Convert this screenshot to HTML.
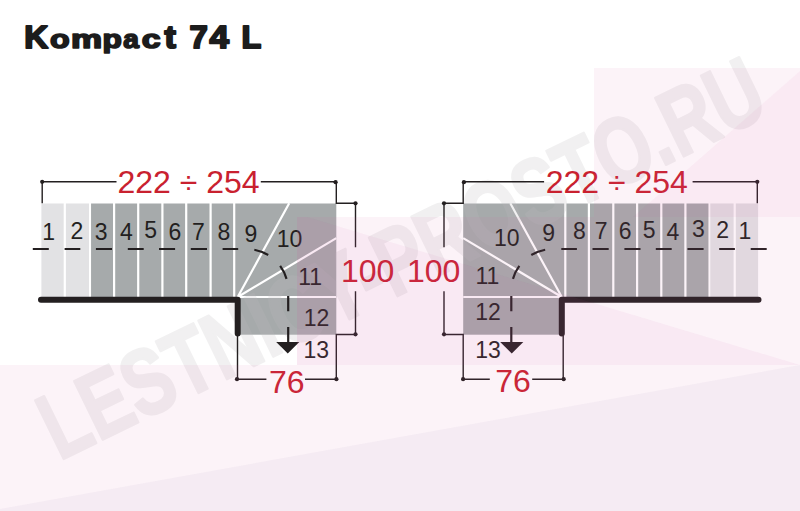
<!DOCTYPE html>
<html><head><meta charset="utf-8"><style>
html,body{margin:0;padding:0;background:#fff;}
body{width:800px;height:511px;overflow:hidden;}
svg{display:block;font-family:"Liberation Sans",sans-serif;}
</style></head><body>
<svg width="800" height="511" viewBox="0 0 800 511">
<rect x="41.4" y="203.5" width="47.5" height="93.8" fill="#e2e2e4"/>
<rect x="88.9" y="203.5" width="247.4" height="93.8" fill="#a6aaab"/>
<rect x="235.4" y="296" width="100.9" height="38.7" fill="#a6aaab"/>
<rect x="63.70" y="203" width="2.2" height="95" fill="#fff"/>
<rect x="88.85" y="203" width="2.2" height="95" fill="#fff"/>
<rect x="113.00" y="203" width="2.2" height="95" fill="#fff"/>
<rect x="137.10" y="203" width="2.2" height="95" fill="#fff"/>
<rect x="161.30" y="203" width="2.2" height="95" fill="#fff"/>
<rect x="185.10" y="203" width="2.2" height="95" fill="#fff"/>
<rect x="209.50" y="203" width="2.2" height="95" fill="#fff"/>
<rect x="233.10" y="203" width="2.2" height="95" fill="#fff"/>
<path d="M237.7 297.0 L289.2 203.3 M237.7 297.0 L336.3 238.1 M237.7 297.0 L336.3 297.0" stroke="#fff" stroke-width="2.2" fill="none"/>
<g transform="matrix(-1 0 0 1 799.5 0)"><rect x="41.4" y="203.5" width="47.5" height="93.8" fill="#e2e2e4"/>
<rect x="88.9" y="203.5" width="247.4" height="93.8" fill="#a6aaab"/>
<rect x="235.4" y="296" width="100.9" height="38.7" fill="#a6aaab"/>
<rect x="63.70" y="203" width="2.2" height="95" fill="#fff"/>
<rect x="88.85" y="203" width="2.2" height="95" fill="#fff"/>
<rect x="113.00" y="203" width="2.2" height="95" fill="#fff"/>
<rect x="137.10" y="203" width="2.2" height="95" fill="#fff"/>
<rect x="161.30" y="203" width="2.2" height="95" fill="#fff"/>
<rect x="185.10" y="203" width="2.2" height="95" fill="#fff"/>
<rect x="209.50" y="203" width="2.2" height="95" fill="#fff"/>
<rect x="233.10" y="203" width="2.2" height="95" fill="#fff"/>
<path d="M237.7 297.0 L289.2 203.3 M237.7 297.0 L336.3 238.1 M237.7 297.0 L336.3 297.0" stroke="#fff" stroke-width="2.2" fill="none"/></g>
<g opacity="0.21"><text x="0" y="0" transform="translate(59.2 460.9) rotate(-26) scale(0.754 1)" font-size="94.3" font-weight="bold" fill="rgb(190,188,190)" stroke="rgb(190,188,190)" stroke-width="2.5" stroke-linejoin="round">LESTNICY-PROSTO.RU</text></g>
<text transform="translate(24.36 47.70) scale(1.037 0.959)" font-size="32.0" font-weight="bold" fill="#1c1c1c" stroke="#1c1c1c" stroke-width="2.0" stroke-linejoin="round">K</text>
<text transform="translate(50.12 48.14) scale(1.004 0.822)" font-size="32.0" font-weight="bold" fill="#1c1c1c" stroke="#1c1c1c" stroke-width="2.0" stroke-linejoin="round">o</text>
<text transform="translate(71.02 48.00) scale(1.094 0.814)" font-size="32.0" font-weight="bold" fill="#1c1c1c" stroke="#1c1c1c" stroke-width="2.0" stroke-linejoin="round">m</text>
<text transform="translate(102.44 48.09) scale(0.990 0.815)" font-size="32.0" font-weight="bold" fill="#1c1c1c" stroke="#1c1c1c" stroke-width="2.0" stroke-linejoin="round">p</text>
<text transform="translate(123.15 48.14) scale(0.880 0.822)" font-size="32.0" font-weight="bold" fill="#1c1c1c" stroke="#1c1c1c" stroke-width="2.0" stroke-linejoin="round">a</text>
<text transform="translate(141.65 48.14) scale(1.058 0.822)" font-size="32.0" font-weight="bold" fill="#1c1c1c" stroke="#1c1c1c" stroke-width="2.0" stroke-linejoin="round">c</text>
<text transform="translate(164.57 48.08) scale(1.067 0.986)" font-size="32.0" font-weight="bold" fill="#1c1c1c" stroke="#1c1c1c" stroke-width="2.0" stroke-linejoin="round">t</text>
<text transform="translate(189.40 47.80) scale(1.031 0.955)" font-size="32.0" font-weight="bold" fill="#1c1c1c" stroke="#1c1c1c" stroke-width="2.0" stroke-linejoin="round">7</text>
<text transform="translate(209.48 47.80) scale(1.092 0.955)" font-size="32.0" font-weight="bold" fill="#1c1c1c" stroke="#1c1c1c" stroke-width="2.0" stroke-linejoin="round">4</text>
<text transform="translate(241.41 47.80) scale(1.012 0.955)" font-size="32.0" font-weight="bold" fill="#1c1c1c" stroke="#1c1c1c" stroke-width="2.0" stroke-linejoin="round">L</text>
<path d="M41 299.8 H237.7 V333.5" stroke="#231f20" stroke-width="6" fill="none" stroke-linecap="round" stroke-linejoin="round"/>
<path d="M42.2 203.3 V181.8 H116.5 M260.8 181.8 H336.3 V203.3 H355.5 V247.3 M355.5 291.2 V334.5 H336.3 V379.2 H305.0 M266.4 379.2 H237.5 V336" stroke="#231f20" stroke-width="1.4" fill="none"/>
<circle cx="42.2" cy="181.8" r="2.1" fill="#231f20"/>
<circle cx="335.6" cy="182.2" r="2.1" fill="#231f20"/>
<circle cx="355.5" cy="203.3" r="2.1" fill="#231f20"/>
<circle cx="355.5" cy="334.3" r="2.1" fill="#231f20"/>
<circle cx="237.0" cy="379.2" r="2.1" fill="#231f20"/>
<circle cx="336.4" cy="379.2" r="2.1" fill="#231f20"/>
<path d="M32.8 249 H48.8 M64.6 249 H80.3 M95.9 249 H112.0 M127.8 249 H143.7 M159.0 249 H175.1 M190.8 249 H207.0 M222.6 249 H238.2 M254.33 249.71 A41.5 41.5 0 0 1 268.20 255.00 M280.15 265.93 A41.5 41.5 0 0 1 286.53 278.85 M288.2 296 V311.3 M288.2 327 V343" stroke="#231f20" stroke-width="2.2" fill="none"/>
<path d="M276.2 342 H299.3 L287.75 353.6 Z" fill="#231f20"/>
<g transform="matrix(-1 0 0 1 799.5 0)"><path d="M41 299.8 H237.7 V333.5" stroke="#231f20" stroke-width="6" fill="none" stroke-linecap="round" stroke-linejoin="round"/>
<path d="M42.2 203.3 V181.8 H106.89999999999998 M255.39999999999998 181.8 H336.3 V203.3 H355.5 V247.3 M355.5 291.2 V334.5 H336.3 V379.2 H309.7 M267.29999999999995 379.2 H236.29999999999995 V336" stroke="#231f20" stroke-width="1.4" fill="none"/>
<circle cx="42.2" cy="181.8" r="2.1" fill="#231f20"/>
<circle cx="335.6" cy="182.2" r="2.1" fill="#231f20"/>
<circle cx="355.5" cy="203.3" r="2.1" fill="#231f20"/>
<circle cx="355.5" cy="334.3" r="2.1" fill="#231f20"/>
<circle cx="235.79999999999995" cy="379.2" r="2.1" fill="#231f20"/>
<circle cx="336.4" cy="379.2" r="2.1" fill="#231f20"/>
<path d="M32.8 249 H48.8 M64.6 249 H80.3 M95.9 249 H112.0 M127.8 249 H143.7 M159.0 249 H175.1 M190.8 249 H207.0 M222.6 249 H238.2 M254.33 249.71 A41.5 41.5 0 0 1 268.20 255.00 M280.15 265.93 A41.5 41.5 0 0 1 286.53 278.85 M288.2 296 V311.3 M288.2 327 V343" stroke="#231f20" stroke-width="2.2" fill="none"/>
<path d="M276.2 342 H299.3 L287.75 353.6 Z" fill="#231f20"/></g>
<text x="48.75" y="239.55" font-size="23" fill="#231f20" text-anchor="middle">1</text>
<text x="76.85" y="238.65" font-size="23" fill="#231f20" text-anchor="middle">2</text>
<text x="101.10" y="239.95" font-size="23" fill="#231f20" text-anchor="middle">3</text>
<text x="126.50" y="240.25" font-size="23" fill="#231f20" text-anchor="middle">4</text>
<text x="150.70" y="238.45" font-size="23" fill="#231f20" text-anchor="middle">5</text>
<text x="174.90" y="239.55" font-size="23" fill="#231f20" text-anchor="middle">6</text>
<text x="198.40" y="239.75" font-size="23" fill="#231f20" text-anchor="middle">7</text>
<text x="224.00" y="239.75" font-size="23" fill="#231f20" text-anchor="middle">8</text>
<text x="250.90" y="241.55" font-size="23" fill="#231f20" text-anchor="middle">9</text>
<text x="289.60" y="246.55" font-size="23" fill="#231f20" text-anchor="middle">10</text>
<text x="310.20" y="285.35" font-size="23" fill="#231f20" text-anchor="middle">11</text>
<text x="316.50" y="325.65" font-size="23" fill="#231f20" text-anchor="middle">12</text>
<text x="316.20" y="357.55" font-size="23" fill="#231f20" text-anchor="middle">13</text>
<text x="744.90" y="238.95" font-size="23" fill="#231f20" text-anchor="middle">1</text>
<text x="722.60" y="238.45" font-size="23" fill="#231f20" text-anchor="middle">2</text>
<text x="698.40" y="237.25" font-size="23" fill="#231f20" text-anchor="middle">3</text>
<text x="673.00" y="239.85" font-size="23" fill="#231f20" text-anchor="middle">4</text>
<text x="649.10" y="238.15" font-size="23" fill="#231f20" text-anchor="middle">5</text>
<text x="625.25" y="238.95" font-size="23" fill="#231f20" text-anchor="middle">6</text>
<text x="601.20" y="239.05" font-size="23" fill="#231f20" text-anchor="middle">7</text>
<text x="579.35" y="238.95" font-size="23" fill="#231f20" text-anchor="middle">8</text>
<text x="548.70" y="240.85" font-size="23" fill="#231f20" text-anchor="middle">9</text>
<text x="506.80" y="246.35" font-size="23" fill="#231f20" text-anchor="middle">10</text>
<text x="487.40" y="284.45" font-size="23" fill="#231f20" text-anchor="middle">11</text>
<text x="488.10" y="320.35" font-size="23" fill="#231f20" text-anchor="middle">12</text>
<text x="488.10" y="357.75" font-size="23" fill="#231f20" text-anchor="middle">13</text>
<text x="188.50" y="192.50" font-size="32" fill="#c9212f" text-anchor="middle">222 ÷ 254</text>
<text x="367.60" y="281.70" font-size="32" fill="#c9212f" text-anchor="middle">100</text>
<text x="286.70" y="392.70" font-size="32" fill="#c9212f" text-anchor="middle">76</text>
<text x="616.75" y="192.50" font-size="32" fill="#c9212f" text-anchor="middle">222 ÷ 254</text>
<text x="433.70" y="281.70" font-size="32" fill="#c9212f" text-anchor="middle">100</text>
<text x="513.10" y="392.20" font-size="32" fill="#c9212f" text-anchor="middle">76</text>

<g>
<path fill="rgb(220,100,160)" fill-opacity="0.08" d="M594 68 H800 V71 L633 217 H594 Z"/>
<path fill="rgb(210,85,160)" fill-opacity="0.12" d="M633 217 L800 71 V217 Z"/>
<path fill="rgb(220,100,160)" fill-opacity="0.08" d="M307 217 H800 V365 Z"/>
<path fill="rgb(210,85,160)" fill-opacity="0.13" d="M297 217 H307 L800 365 H297 Z"/>
<path fill="rgb(220,100,160)" fill-opacity="0.08" d="M0 365 H800 L0 509 Z"/>
<path fill="rgb(172,88,155)" fill-opacity="0.12" d="M0 509 L800 365 V511 H0 Z"/>
</g>

</svg>
</body></html>
